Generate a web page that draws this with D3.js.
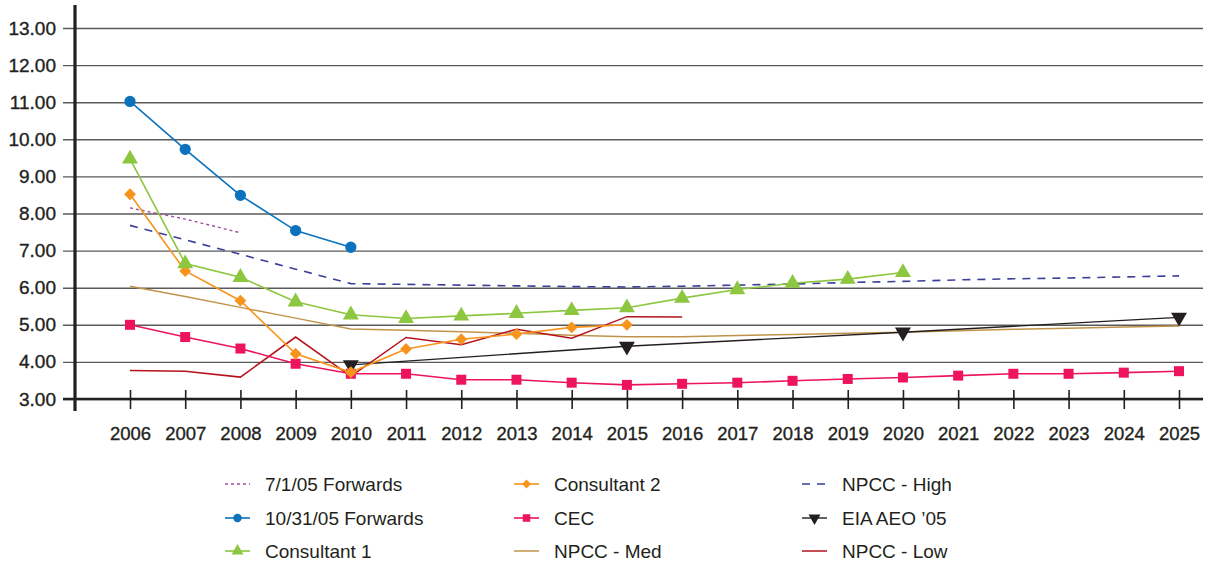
<!DOCTYPE html>
<html lang="en">
<head>
<meta charset="utf-8">
<title>Price Forecasts</title>
<script src="https://d3js.org/d3.v7.min.js"></script>
<style>
  body { margin: 0; background: #fff; }
  text { font-family: "Liberation Sans", Arial, sans-serif; fill: #231f20; }
</style>
</head>
<body>
<script>
"use strict";

// years on the x axis
let years = d3.range(2006, 2026);
let yTicks = [3, 4, 5, 6, 7, 8, 9, 10, 11, 12, 13];

// series values
let fwd0701 = [8.15, 7.85, 7.48];
let fwd1031 = [11.02, 9.73, 8.49, 7.54, 7.09];
let consultant1 = [9.47, 6.65, 6.28, 5.62, 5.27, 5.17, 5.24, 5.31, 5.39, 5.46, 5.72, 5.95, 6.12, 6.23, 6.41];
let consultant2 = [8.52, 6.45, 5.65, 4.22, 3.72, 4.35, 4.61, 4.75, 4.93, 5.0];
let cec = [5.0, 4.67, 4.36, 3.95, 3.68, 3.68, 3.52, 3.52, 3.44, 3.38, 3.41, 3.44, 3.49, 3.54, 3.58, 3.63, 3.68, 3.68, 3.71, 3.75];
let npccHigh = [7.68, 7.29, 6.9, 6.5, 6.11, 6.09, 6.07, 6.05, 6.03, 6.02, 6.04, 6.07, 6.1, 6.14, 6.17, 6.21, 6.24, 6.26, 6.29, 6.32];
let npccMed = [6.04, 5.76, 5.47, 5.18, 4.89, 4.85, 4.81, 4.77, 4.72, 4.68, 4.68, 4.71, 4.74, 4.77, 4.8, 4.84, 4.88, 4.91, 4.94, 4.97];
let npccLow = [3.77, 3.75, 3.59, 4.67, 3.61, 4.66, 4.46, 4.88, 4.64, 5.22, 5.21];
let eiaYears = [2010, 2015, 2020, 2025];
let eia = [3.92, 4.42, 4.8, 5.2];

let w = 1212, h = 569;

let svg = d3.select("body").append("svg")
    .attr("width", w)
    .attr("height", h);

let x = d3.scaleLinear().domain([2006, 2025]).range([130, 1179]);
let y = d3.scaleLinear().domain([3, 13]).range([399, 28]);

// gridlines
svg.append("g")
    .attr("transform", "translate(63,0)")
    .call(d3.axisRight(y).tickValues(yTicks).tickSize(1140).tickFormat(""))
    .call(g => g.select(".domain").remove())
    .call(g => g.selectAll("line").attr("stroke", "#5a5a5a").attr("stroke-width", 1.4));

// y axis labels
svg.append("g")
    .attr("transform", "translate(75,0)")
    .call(d3.axisLeft(y).tickValues(yTicks).tickSize(0).tickPadding(19).tickFormat(d3.format(".2f")))
    .call(g => g.select(".domain").remove())
    .call(g => g.selectAll("text").style("font-size", "19px").attr("fill", "#231f20")
        .attr("stroke", "#231f20").attr("stroke-width", 0.35));

// x axis
let xAxis = svg.append("g")
    .attr("transform", "translate(0,399)")
    .call(d3.axisBottom(x).tickValues(years).tickSize(10).tickPadding(0).tickFormat(d3.format("d")));
xAxis.select(".domain").remove();
xAxis.selectAll(".tick line").attr("y1", -9).attr("y2", 10)
    .attr("stroke", "#231f20").attr("stroke-width", 1.6);
xAxis.selectAll(".tick text").attr("y", 41).attr("dy", null)
    .style("font-size", "18.5px").attr("fill", "#231f20")
    .attr("stroke", "#231f20").attr("stroke-width", 0.35);

svg.append("line")
    .attr("x1", 63).attr("x2", 1203).attr("y1", 399).attr("y2", 399)
    .attr("stroke", "#231f20").attr("stroke-width", 2.6);
svg.append("line")
    .attr("x1", 75).attr("x2", 75).attr("y1", 5).attr("y2", 411)
    .attr("stroke", "#231f20").attr("stroke-width", 3.2);

let line = d3.line().x(d => x(d[0])).y(d => y(d[1]));

function pairs(vals, yrs) {
    return vals.map((v, i) => [yrs ? yrs[i] : 2006 + i, v]);
}

// listed column by column, as in the legend
let series = [
    { name: "7/1/05 Forwards", data: pairs(fwd0701), color: "#a24ea0", width: 1.4, dash: "3,3", marker: null },
    { name: "10/31/05 Forwards", data: pairs(fwd1031), color: "#0b72bd", width: 1.6, dash: null, marker: "circle" },
    { name: "Consultant 1", data: pairs(consultant1), color: "#8dc63f", width: 1.6, dash: null, marker: "triangle" },
    { name: "Consultant 2", data: pairs(consultant2), color: "#f7941d", width: 1.6, dash: null, marker: "diamond" },
    { name: "CEC", data: pairs(cec), color: "#ed145b", width: 1.6, dash: null, marker: "square" },
    { name: "NPCC - Med", data: pairs(npccMed), color: "#c0934a", width: 1.5, dash: null, marker: null },
    { name: "NPCC - High", data: pairs(npccHigh), color: "#3c3f99", width: 1.6, dash: "8,7", marker: null },
    { name: "EIA AEO \u201905", data: pairs(eia, eiaYears), color: "#231f20", width: 1.4, dash: null, marker: "down" },
    { name: "NPCC - Low", data: pairs(npccLow), color: "#b5121b", width: 1.5, dash: null, marker: null }
];

let symbols = {
    circle: d3.symbol().type(d3.symbolCircle).size(100),
    square: d3.symbol().type(d3.symbolSquare).size(100),
    diamond: d3.symbol().type(d3.symbolSquare).size(70),
    triangle: d3.symbol().type(d3.symbolTriangle).size(110),
    down: d3.symbol().type(d3.symbolTriangle).size(110)
};

function drawMarker(g, type, px, py, color, scale) {
    if (!type) return;
    let t = "translate(" + px + "," + py + ")";
    if (scale) t += " scale(" + scale + ")";
    if (type === "down") t += " rotate(180)";
    if (type === "diamond") t += " rotate(45)";
    g.append("path")
        .attr("d", symbols[type]())
        .attr("transform", t)
        .attr("fill", color);
}

// draw order: lines without markers first
let drawOrder = [5, 8, 0, 6, 7, 4, 3, 2, 1];
drawOrder.forEach(function(i) {
    let s = series[i];
    let g = svg.append("g");
    g.append("path")
        .datum(s.data)
        .attr("d", line)
        .attr("fill", "none")
        .attr("stroke", s.color)
        .attr("stroke-width", s.width)
        .attr("stroke-dasharray", s.dash);
    s.data.forEach(d => drawMarker(g, s.marker, x(d[0]), y(d[1]), s.color));
});

// legend
let legCols = [225, 514, 802];
let legRows = [484, 518, 551];
series.forEach(function(s, i) {
    let cx = legCols[Math.floor(i / 3)];
    let cy = legRows[i % 3];
    let g = svg.append("g");
    g.append("line")
        .attr("x1", cx).attr("x2", cx + 25).attr("y1", cy).attr("y2", cy)
        .attr("stroke", s.color).attr("stroke-width", s.width)
        .attr("stroke-dasharray", s.dash);
    drawMarker(g, s.marker, cx + 12.5, cy, s.color, 0.75);
    g.append("text")
        .attr("x", cx + 40).attr("y", cy)
        .attr("dy", "0.35em")
        .style("font-size", "19px")
        .text(s.name);
});
</script>
</body>
</html>
